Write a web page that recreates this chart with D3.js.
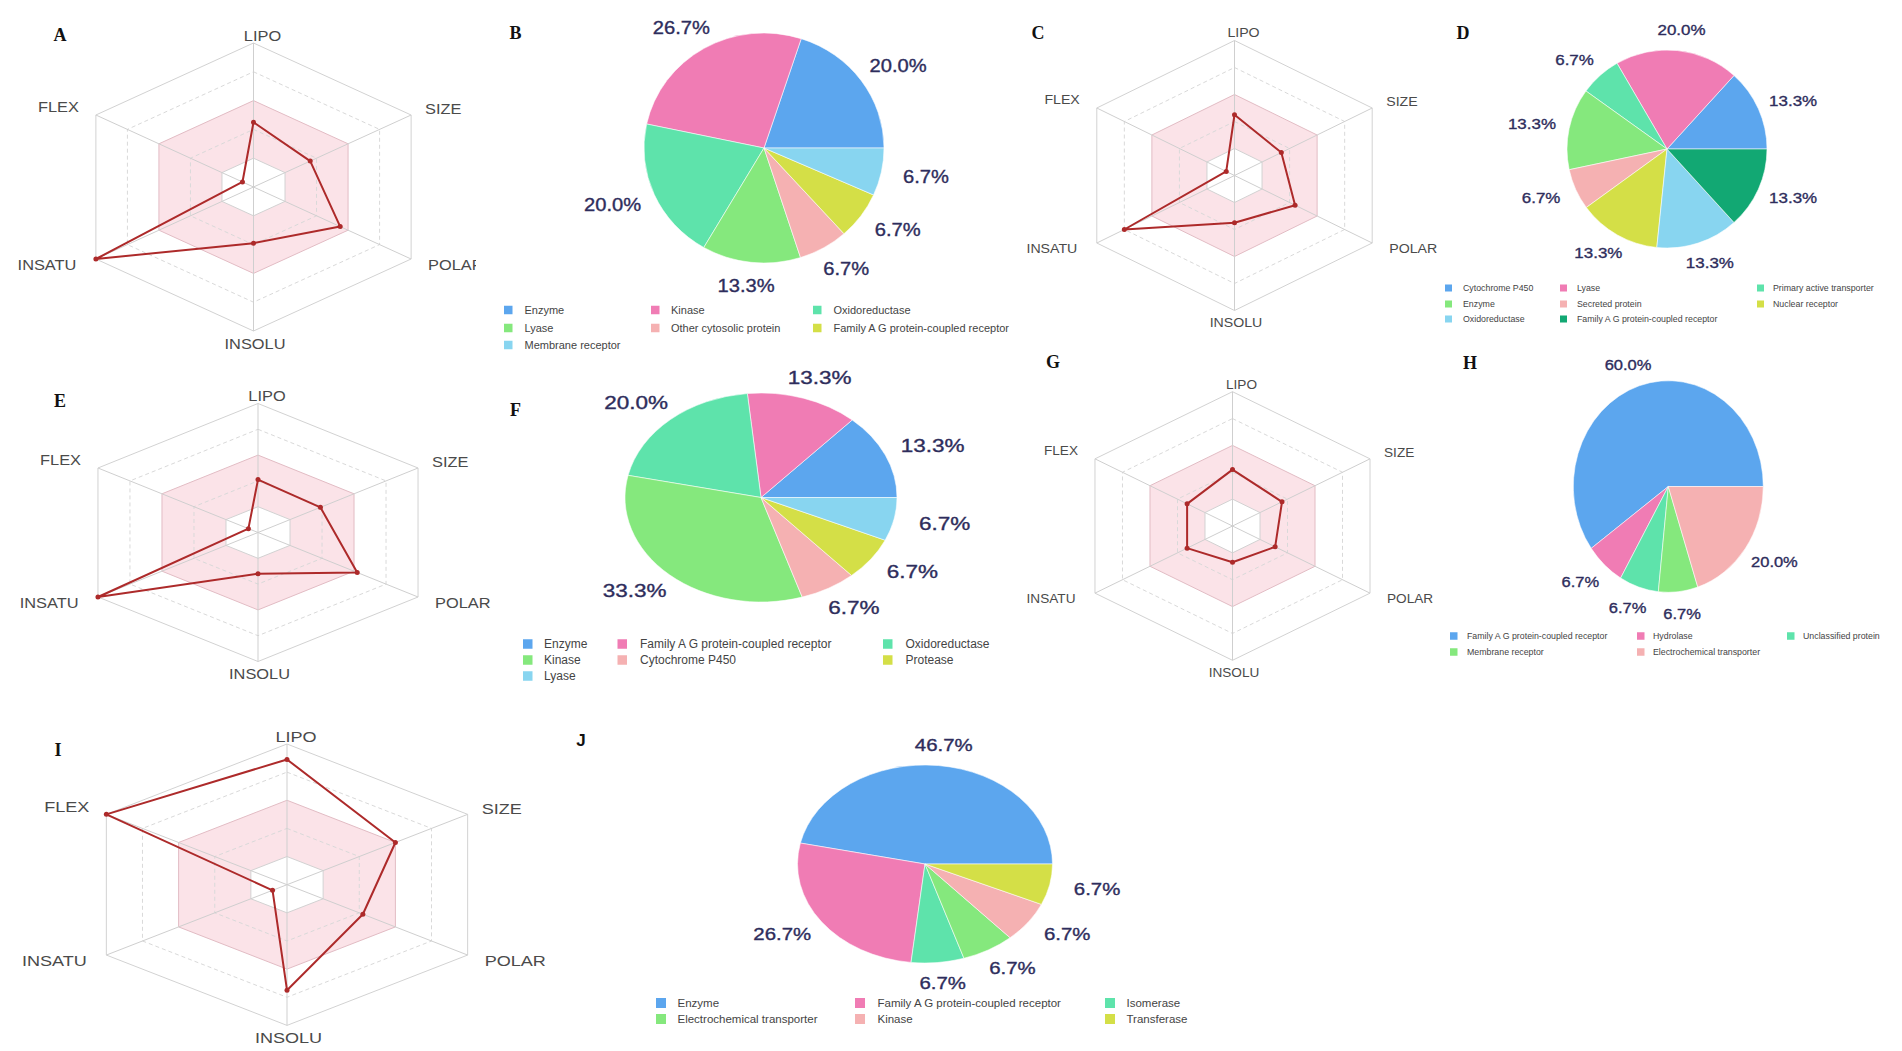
<!DOCTYPE html>
<html>
<head>
<meta charset="utf-8">
<script src="https://cdn.jsdelivr.net/npm/d3@7/dist/d3.min.js"></script>
<style>
  html, body { margin: 0; padding: 0; background: #fff; }
  svg { display: block; }
</style>
</head>
<body>
<svg id="chart" width="1902" height="1051"></svg>
<script>
// ---------------- DATA ----------------
const radarAxes = ["LIPO", "SIZE", "POLAR", "INSOLU", "INSATU", "FLEX"];
const radarLevels = [0.2, 0.4, 0.6, 0.8, 1.0];

const radarA = [0.45, 0.36, 0.55, 0.39, 1.00, 0.07];
const radarC = [0.45, 0.34, 0.44, 0.35, 0.80, 0.06];
const radarE = [0.41, 0.39, 0.62, 0.32, 1.00, 0.06];
const radarG = [0.42, 0.36, 0.31, 0.27, 0.33, 0.33];
const radarI = [0.89, 0.60, 0.42, 0.75, 0.08, 1.00];

const pieBCategories = ["Enzyme", "Kinase", "Oxidoreductase", "Lyase", "Other cytosolic protein", "Family A G protein-coupled receptor", "Membrane receptor"];
const pieBValues = [20.0, 26.7, 20.0, 13.3, 6.7, 6.7, 6.7];

const pieDCategories = ["Cytochrome P450", "Lyase", "Primary active transporter", "Enzyme", "Secreted protein", "Nuclear receptor", "Oxidoreductase", "Family A G protein-coupled receptor"];
const pieDValues = [13.3, 20.0, 6.7, 13.3, 6.7, 13.3, 13.3, 13.3];

const pieFCategories = ["Enzyme", "Family A G protein-coupled receptor", "Oxidoreductase", "Kinase", "Cytochrome P450", "Protease", "Lyase"];
const pieFValues = [13.3, 13.3, 20.0, 33.3, 6.7, 6.7, 6.7];

const pieHCategories = ["Family A G protein-coupled receptor", "Hydrolase", "Unclassified protein", "Membrane receptor", "Electrochemical transporter"];
const pieHValues = [60.0, 6.7, 6.7, 6.7, 20.0];

const pieJCategories = ["Enzyme", "Family A G protein-coupled receptor", "Isomerase", "Electrochemical transporter", "Kinase", "Transferase"];
const pieJValues = [46.7, 26.7, 6.7, 6.7, 6.7, 6.7];

const palette = ["#5ca6ee", "#f07cb4", "#5ee3ab", "#85e87d", "#f5b1b2", "#d4df47", "#88d5f0", "#12a873"];

// ---------------- LAYOUT ----------------
const svg = d3.select("#chart");
svg.append("rect").attr("width", 1902).attr("height", 1051).attr("fill", "#fff");

const radarPanels = [
  { data: radarA, cx: 253.5, cy: 187, rx: 182, ry: 144, fs: 14, sx: 1.17, clip: 476 },
  { data: radarC, cx: 1234.5, cy: 175.5, rx: 159, ry: 135, fs: 13, sx: 1.09 },
  { data: radarE, cx: 258, cy: 532.5, rx: 184.8, ry: 129, fs: 14, sx: 1.17 },
  { data: radarG, cx: 1232.5, cy: 526, rx: 158.8, ry: 134.3, fs: 12.5, sx: 1.09 },
  { data: radarI, cx: 287, cy: 884.7, rx: 208.6, ry: 140.7, fs: 14, sx: 1.29 }
];

// label offsets from outer vertex: [dx, dy, anchor]
const labelOffsets = [
  [9, -7.5, "middle"],
  [14, -6, "start"],
  [17, 6, "start"],
  [1.5, 12.5, "middle"],
  [-19.5, 6, "end"],
  [-17, -8, "end"]
];

const defs = svg.append("defs");

radarPanels.forEach((p, pi) => {
  const g = svg.append("g");
  if (p.clip) {
    defs.append("clipPath").attr("id", "clipR" + pi)
      .append("rect").attr("x", 0).attr("y", 0).attr("width", p.clip).attr("height", 1051);
    g.attr("clip-path", `url(#clipR${pi})`);
  }
  const xs = d3.scaleLinear().domain([0, 1]).range([0, p.rx]);
  const ys = d3.scaleLinear().domain([0, 1]).range([0, p.ry]);
  const ang = i => i * Math.PI / 3;
  const pt = (v, i) => [p.cx + xs(v) * Math.sin(ang(i)), p.cy - ys(v) * Math.cos(ang(i))];
  const hex = lv => radarAxes.map((_, i) => pt(lv, i));
  const closed = d3.line().curve(d3.curveLinearClosed);

  // pink optimal band between 0.2 and 0.6
  const outer = closed(hex(0.6));
  const inner = closed(hex(0.2).reverse());
  g.append("path").attr("d", outer + inner).attr("fill", "#fbe3e8").attr("fill-rule", "evenodd");

  // grid hexagons
  radarLevels.forEach(lv => {
    let stroke = "#d2d2d2", dash = null;
    if (lv === 0.4 || lv === 0.8) { stroke = "#d9d9d9"; dash = "4,3"; }
    if (lv === 0.6) stroke = "#e2bcc4";
    g.append("path").attr("d", closed(hex(lv)))
      .attr("fill", "none").attr("stroke", stroke).attr("stroke-width", 1)
      .attr("stroke-dasharray", dash);
  });
  // spokes
  radarAxes.forEach((_, i) => {
    const [x2, y2] = pt(1, i);
    g.append("line").attr("x1", p.cx).attr("y1", p.cy).attr("x2", x2).attr("y2", y2)
      .attr("stroke", "#cfcfcf").attr("stroke-width", 1);
  });
  // data polygon
  const pts = p.data.map((v, i) => pt(v, i));
  g.append("path").attr("d", closed(pts)).attr("fill", "none")
    .attr("stroke", "#ad2a2a").attr("stroke-width", 2).attr("stroke-linejoin", "round");
  g.selectAll("circle.pt").data(pts).enter().append("circle")
    .attr("cx", d => d[0]).attr("cy", d => d[1]).attr("r", 2.5).attr("fill", "#ad2a2a");
  // axis labels
  radarAxes.forEach((name, i) => {
    const [vx, vy] = pt(1, i);
    const [dx, dy, anchor] = labelOffsets[i];
    g.append("text")
      .attr("transform", `translate(${vx + dx},${vy + dy}) scale(${p.sx},1)`)
      .attr("text-anchor", anchor).attr("dominant-baseline", "central")
      .attr("font-family", "'Liberation Sans', Arial, sans-serif")
      .attr("font-size", p.fs).attr("fill", "#4a4a4a")
      .text(name);
  });
});

// ---------------- PIES ----------------
const piePanels = [
  { cats: pieBCategories, vals: pieBValues, cx: 764, cy: 148, rx: 120, ry: 115, fs: 18, sx: 1.12,
    legend: { sq: [504, 651, 813], tx: [524.5, 671, 833.5], rows: [310, 328, 345], size: 8.5, fs: 11 } },
  { cats: pieDCategories, vals: pieDValues, cx: 1667, cy: 149, rx: 100, ry: 99, fs: 15, sx: 1.13,
    legend: { sq: [1445, 1560, 1757], tx: [1463, 1577, 1773], rows: [288, 304, 319], size: 7, fs: 8.8 } },
  { cats: pieFCategories, vals: pieFValues, cx: 761, cy: 497.5, rx: 136, ry: 104.5, fs: 18, sx: 1.25,
    legend: { sq: [523, 617.5, 883], tx: [544, 640, 905.5], rows: [644, 660, 676], size: 9.5, fs: 12 } },
  { cats: pieHCategories, vals: pieHValues, cx: 1668.3, cy: 486.5, rx: 95, ry: 105.8, fs: 15, sx: 1.1,
    legend: { sq: [1450, 1637, 1787], tx: [1467, 1653, 1803], rows: [636, 652], size: 7.5, fs: 8.8 } },
  { cats: pieJCategories, vals: pieJValues, cx: 925, cy: 864, rx: 127.5, ry: 99, fs: 17, sx: 1.2,
    legend: { sq: [656, 855, 1105], tx: [677.5, 877.5, 1126.5], rows: [1003, 1019], size: 10, fs: 11.5 } }
];

const KX = 1.38, KY = 1.21;
const fmt = d3.format(".1f");

piePanels.forEach(p => {
  const data = p.cats.map((c, i) => ({ c, v: p.vals[i], i }));
  const pie = d3.pie().sort(null).value(d => d.v)
    .startAngle(Math.PI / 2).endAngle(Math.PI / 2 - 2 * Math.PI);
  const arcs = pie(data);
  const arc = d3.arc().innerRadius(0).outerRadius(100);
  const color = d3.scaleOrdinal().domain(p.cats).range(palette);

  const g = svg.append("g").attr("transform", `translate(${p.cx},${p.cy}) scale(${p.rx / 100},${p.ry / 100})`);
  g.selectAll("path").data(arcs).enter().append("path")
    .attr("d", arc).attr("fill", d => color(d.data.c))
    .attr("stroke", "#ffffff").attr("stroke-width", 0.8).attr("stroke-opacity", 0.7)
    .attr("vector-effect", "non-scaling-stroke");

  arcs.forEach(d => {
    const a = (d.startAngle + d.endAngle) / 2;
    const x = p.cx + KX * p.rx * Math.sin(a);
    const y = p.cy - KY * p.ry * Math.cos(a);
    svg.append("text")
      .attr("transform", `translate(${x},${y}) scale(${p.sx},1)`)
      .attr("text-anchor", "middle").attr("dominant-baseline", "central")
      .attr("font-family", "'Liberation Sans', Arial, sans-serif")
      .attr("font-size", p.fs).attr("fill", "#2e2d5c")
      .attr("stroke", "#2e2d5c").attr("stroke-width", 0.35)
      .text(fmt(d.data.v) + "%");
  });

  // legend (row-major, 3 columns)
  const L = p.legend;
  data.forEach((d, i) => {
    const col = i % 3, row = Math.floor(i / 3);
    const y = L.rows[row];
    svg.append("rect").attr("x", L.sq[col]).attr("y", y - L.size / 2)
      .attr("width", L.size).attr("height", L.size).attr("fill", color(d.c));
    svg.append("text").attr("x", L.tx[col]).attr("y", y)
      .attr("dominant-baseline", "central")
      .attr("font-family", "'Liberation Sans', Arial, sans-serif")
      .attr("font-size", L.fs).attr("fill", "#444")
      .text(d.c);
  });
});

// ---------------- PANEL LETTERS ----------------
const panelLetters = ["A", "B", "C", "D", "E", "F", "G", "H", "I", "J"];
const letterPos = [[60, 35], [515.5, 33], [1038, 33], [1463, 33], [60, 401], [515.5, 410], [1053, 362], [1470, 363], [58, 750], [581, 740]];
panelLetters.forEach((t, i) => {
  const serif = t !== "J";
  svg.append("text").attr("x", letterPos[i][0]).attr("y", letterPos[i][1])
    .attr("text-anchor", "middle").attr("dominant-baseline", "central")
    .attr("font-family", serif ? "'Liberation Serif', 'Times New Roman', serif" : "'Liberation Sans', Arial, sans-serif")
    .attr("font-weight", "bold").attr("font-size", serif ? 18 : 17).attr("fill", "#111")
    .text(t);
});
</script>
</body>
</html>
